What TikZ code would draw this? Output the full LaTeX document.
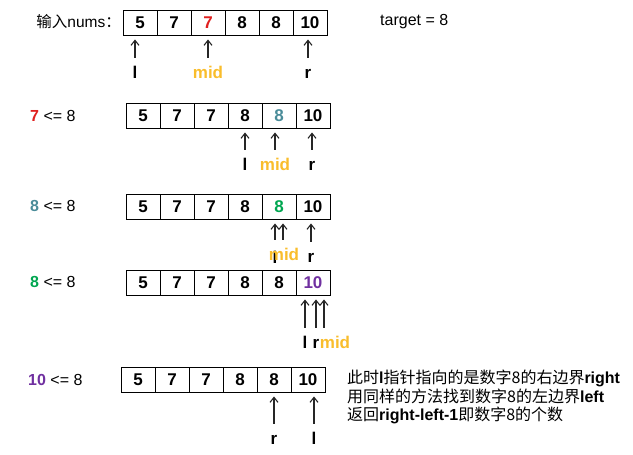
\documentclass[tikz,border=0pt]{standalone}
\usepackage{fontspec}
\setmainfont{Liberation Sans}
\newfontfamily\cjk{Noto Sans CJK SC}
\usetikzlibrary{arrows.meta,positioning}
\definecolor{numred}{HTML}{E0201F}
\definecolor{numteal}{HTML}{4A8C99}
\definecolor{numgreen}{HTML}{00A650}
\definecolor{numpurple}{HTML}{7030A0}
\definecolor{midgold}{HTML}{F9BD2C}

\begin{document}
\begin{tikzpicture}[x=1pt,y=-1pt,
    cell/.style={draw,line width=0.9pt,minimum width=34pt,minimum height=25pt,inner sep=0pt,font=\fontsize{17}{20}\selectfont\bfseries},
    ptr/.style={inner sep=0pt,text height=12pt,text depth=0pt,font=\fontsize{17}{20}\selectfont\bfseries},
    cond/.style={anchor=west,inner sep=0pt,font=\fontsize{16}{19}\selectfont},
    arr/.style={-{Straight Barb[length=5pt,width=8pt]},line width=1.1pt,black!85,shorten <=8pt,shorten >=4pt}
]
\useasboundingbox (0,0) rectangle (633,455);

% input array
\node[cond,anchor=east,font=\fontsize{15.5}{18}\selectfont] (inp) at (121,22) {{\cjk 输入}nums{\cjk ：}};
\node[cond] (tgt) at (380,22) {target = 8};
\foreach \v [count=\i] in {5,7,{\textcolor{numred}{7}},8,8,10}
  \node[cell] (a\i) at (106+34*\i,22.5) {\v};
\node[ptr] (l1) at (135,72) {l};
\node[ptr,midgold] (m1) at (208,72) {mid};
\node[ptr] (r1) at (308,72) {r};
\draw[arr] (l1.north) -- (l1.north |- a1.south);
\draw[arr] (m1.north) -- (m1.north |- a1.south);
\draw[arr] (r1.north) -- (r1.north |- a1.south);

% 7 <= 8
\node[cond] (k2) at (30,116) {\textbf{\textcolor{numred}{7}} <= 8};
\foreach \v [count=\i] in {5,7,7,8,{\textcolor{numteal}{8}},10}
  \node[cell] (b\i) at (109+34*\i,115.5) {\v};
\node[ptr] (l2) at (245,164) {l};
\node[ptr,midgold] (m2) at (275,164) {mid};
\node[ptr] (r2) at (312,164) {r};
\draw[arr] (l2.north) -- (l2.north |- b1.south);
\draw[arr] (m2.north) -- (m2.north |- b1.south);
\draw[arr] (r2.north) -- (r2.north |- b1.south);

% 8 <= 8
\node[cond] (k3) at (30,206) {\textbf{\textcolor{numteal}{8}} <= 8};
\foreach \v [count=\i] in {5,7,7,8,{\textcolor{numgreen}{8}},10}
  \node[cell] (c\i) at (109+34*\i,206.5) {\v};
\node[ptr] (l3) at (275,257) {l};
\node[ptr,midgold] (m3) at (284,254) {mid};
\node[ptr] (r3) at (311,256) {r};
\draw[arr] (l3.north) ++(0,-3) -- (l3.north |- c1.south);
\draw[arr] ([xshift=-1pt]m3.north) -- ([xshift=-1pt]m3.north |- c1.south);
\draw[arr] (r3.north) -- (r3.north |- c1.south);

% 8 <= 8 again
\node[cond] (k4) at (30,282) {\textbf{\textcolor{numgreen}{8}} <= 8};
\foreach \v [count=\i] in {5,7,7,8,8,{\textcolor{numpurple}{10}}}
  \node[cell] (d\i) at (109+34*\i,282.5) {\v};
\node[ptr] (l4) at (305,342) {l};
\node[ptr] (r4) at (316,342) {r};
\node[ptr,midgold] (m4) at (335,342) {mid};
\draw[arr] (l4.north) -- (l4.north |- d1.south);
\draw[arr] (r4.north) -- (r4.north |- d1.south);
\draw[arr] ([xshift=-11pt]m4.north) -- ([xshift=-11pt]m4.north |- d1.south);

% 10 <= 8
\node[cond] (k5) at (28,380) {\textbf{\textcolor{numpurple}{10}} <= 8};
\foreach \v [count=\i] in {5,7,7,8,8,10}
  \node[cell] (e\i) at (104+34*\i,379.5) {\v};
\node[ptr] (r5) at (274,438) {r};
\node[ptr] (l5) at (314,438) {l};
\draw[arr] (r5.north) -- (r5.north |- e1.south);
\draw[arr] (l5.north) -- (l5.north |- e1.south);

\node[anchor=north west,inner sep=0pt,align=left,font=\fontsize{16}{18.5}\selectfont] (note) at (347,370)
  {{\cjk 此时}\textbf{l}{\cjk 指针指向的是数字8的右边界}\textbf{right}\\
   {\cjk 用同样的方法找到数字8的左边界}\textbf{left}\\
   {\cjk 返回}\textbf{right-left-1}{\cjk 即数字8的个数}};
\end{tikzpicture}
\end{document}
